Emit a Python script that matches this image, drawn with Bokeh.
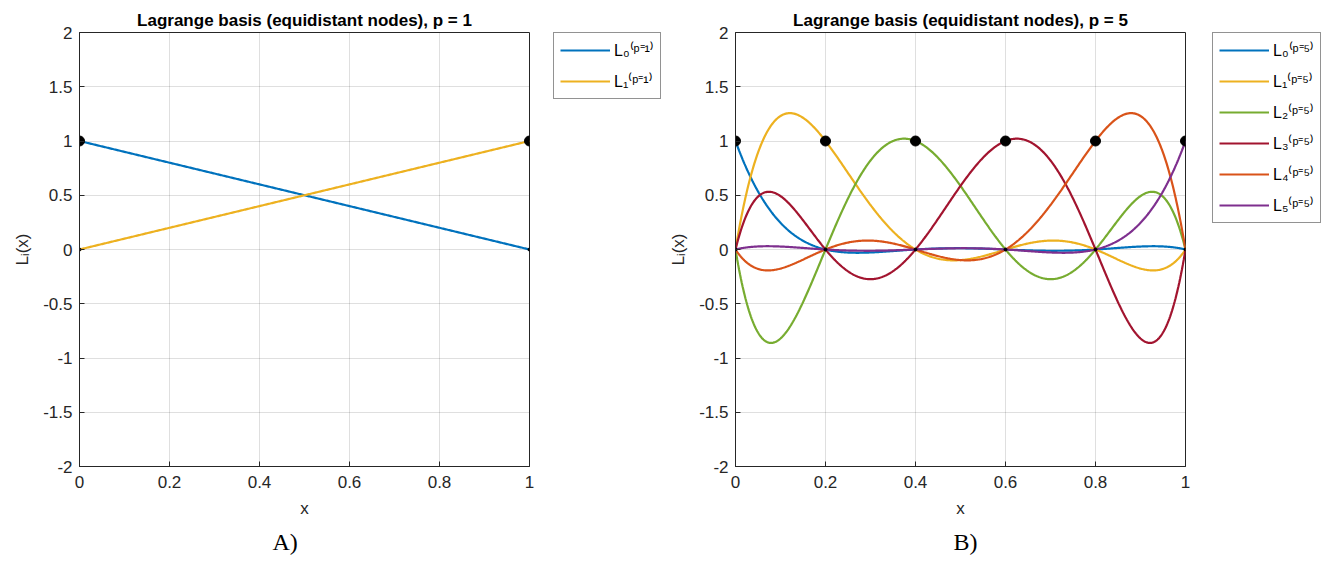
import numpy as np
from bokeh.plotting import figure
from bokeh.models import Legend, LegendItem, FixedTicker, Title, Range1d
from bokeh.layouts import row
from bokeh.embed import file_html
from bokeh.resources import INLINE

# ---- data ----
nodes_p1 = [0.0, 1.0]
nodes_p5 = [0.0, 0.2, 0.4, 0.6, 0.8, 1.0]
colors_p1 = ["#0072BD", "#EDB120"]
colors_p5 = ["#0072BD", "#EDB120", "#77AC30", "#A2142F", "#D95319", "#7E2F8E"]
labels_p1 = ["L\u2080\u207d\u1d56\u207c\u00b9\u207e", "L\u2081\u207d\u1d56\u207c\u00b9\u207e"]
labels_p5 = ["L" + s + "\u207d\u1d56\u207c\u2075\u207e" for s in
             ["\u2080", "\u2081", "\u2082", "\u2083", "\u2084", "\u2085"]]
x_ticks = [0, 0.2, 0.4, 0.6, 0.8, 1]
x_tick_labels = ["0", "0.2", "0.4", "0.6", "0.8", "1"]
y_ticks = [-2, -1.5, -1, -0.5, 0, 0.5, 1, 1.5, 2]
y_tick_labels = ["-2", "-1.5", "-1", "-0.5", "0", "0.5", "1", "1.5", "2"]
titles = ["Lagrange basis (equidistant nodes), p = 1",
          "Lagrange basis (equidistant nodes), p = 5"]
tags = ["A)", "B)"]

x_eval = np.linspace(0.0, 1.0, 501)


def lagrange_basis(nodes, i, x):
    y = np.ones_like(x)
    for j, xj in enumerate(nodes):
        if j != i:
            y *= (x - xj) / (nodes[i] - xj)
    return y


AX = "#262626"
FONT = "Liberation Sans"
H = 563


def make(nodes, colors, title, tag, tag_offset, border_left):
    p = figure(width=border_left + 460, height=H, frame_width=450, frame_height=434,
               min_border_left=border_left, min_border_right=10,
               min_border_top=32, min_border_bottom=97,
               x_range=Range1d(0, 1), y_range=Range1d(-2, 2),
               output_backend="svg", toolbar_location=None, title=title,
               background_fill_color="white", border_fill_color="white")
    p.title.align = "center"
    p.title.text_font = FONT
    p.title.text_font_size = "17px"
    p.title.text_font_style = "bold"
    p.title.text_color = "black"
    p.title.standoff = 5

    p.outline_line_color = AX
    p.outline_line_alpha = 1
    p.outline_line_width = 1

    p.xaxis.ticker = FixedTicker(ticks=x_ticks)
    p.yaxis.ticker = FixedTicker(ticks=y_ticks)
    p.xaxis.major_label_overrides = dict(zip(x_ticks, x_tick_labels))
    p.yaxis.major_label_overrides = dict(zip(y_ticks, y_tick_labels))
    p.xgrid.ticker = FixedTicker(ticks=x_ticks)
    p.ygrid.ticker = FixedTicker(ticks=y_ticks)
    for g in (p.xgrid, p.ygrid):
        g.grid_line_color = AX
        g.grid_line_alpha = 0.15
    for ax in (p.xaxis, p.yaxis):
        ax.axis_line_color = AX
        ax.major_tick_line_color = AX
        ax.major_tick_in = 5
        ax.major_tick_out = 0
        ax.minor_tick_line_color = None
        ax.major_label_text_font = FONT
        ax.major_label_text_font_size = "17px"
        ax.major_label_text_color = AX
        ax.axis_label_text_font = FONT
        ax.axis_label_text_font_size = "17px"
        ax.axis_label_text_font_style = "normal"
        ax.axis_label_text_color = AX
    p.xaxis.major_label_standoff = 9
    p.xaxis.axis_label_standoff = 8
    p.yaxis.major_label_standoff = 7
    p.yaxis.axis_label_standoff = 8
    p.xaxis.axis_label = "x"
    p.yaxis.axis_label = "L\u1d62(x)"

    for i, c in enumerate(colors):
        p.line(x_eval, lagrange_basis(nodes, i, x_eval), line_color=c, line_width=2.2)

    p.scatter(nodes, [0.0] * len(nodes), size=3, color="black")
    p.scatter(nodes, [1.0] * len(nodes), size=10, color="black")

    p.add_layout(Title(text=tag, align="left", offset=tag_offset,
                       text_font="Liberation Serif",
                       text_font_size="24px", text_font_style="normal",
                       text_color="black", standoff=12), "below")
    return p


def make_legend(nodes, colors, labels, width, gap):
    # legend-only panel: the curves are drawn out of view, only the legend shows
    lf = figure(width=width, height=H, title=None,
                x_range=Range1d(10, 11), y_range=Range1d(10, 11),
                min_border_left=gap, min_border_right=0, min_border_bottom=0,
                min_border_top=31,
                x_axis_location=None, y_axis_location=None,
                output_backend="svg", toolbar_location=None,
                background_fill_color="white", border_fill_color="white")
    lf.outline_line_color = None
    lf.xgrid.visible = False
    lf.ygrid.visible = False
    items = []
    for i, (c, lab) in enumerate(zip(colors, labels)):
        r = lf.line(x_eval, lagrange_basis(nodes, i, x_eval), line_color=c, line_width=2.2)
        items.append(LegendItem(label=lab, renderers=[r]))
    legend = Legend(items=items, location="top_left",
                    label_text_font=FONT, label_text_font_size="16px",
                    label_text_color="black",
                    glyph_width=50, glyph_height=20, label_height=20,
                    spacing=9, padding=6, margin=0, label_standoff=4,
                    border_line_color=AX, border_line_width=1,
                    background_fill_color="white", background_fill_alpha=1)
    lf.add_layout(legend)
    return lf


p1 = make(nodes_p1, colors_p1, titles[0], tags[0], 193, 79)
l1 = make_legend(nodes_p1, colors_p1, labels_p1, 124, 14)
p2 = make(nodes_p5, colors_p5, titles[1], tags[1], 218, 72)
l2 = make_legend(nodes_p5, colors_p5, labels_p5, 129, 17)

layout = row(p1, l1, p2, l2)
open("out.html", "w").write(file_html(layout, INLINE))
